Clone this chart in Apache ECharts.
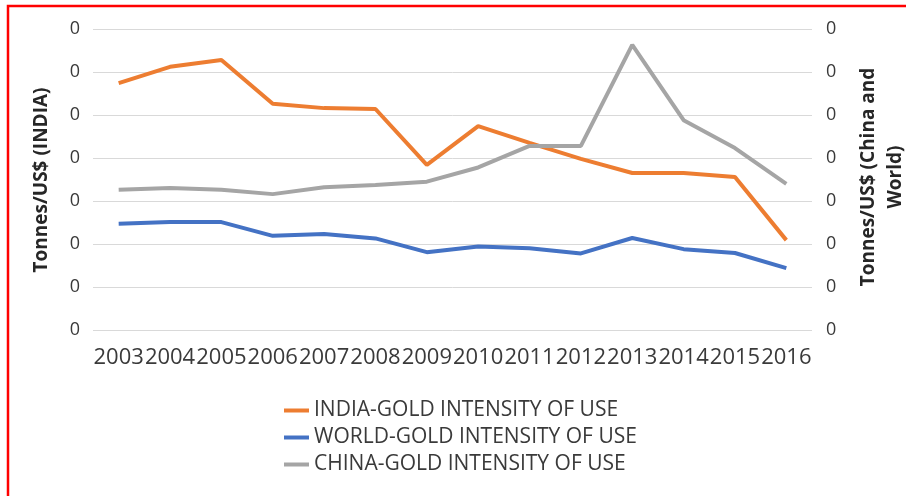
<!DOCTYPE html>
<html>
<head>
<meta charset="utf-8">
<script src="https://cdn.jsdelivr.net/npm/echarts@6/dist/echarts.min.js"></script>
<style>
  html, body { margin: 0; padding: 0; background: #ffffff; }
  #chart { width: 906px; height: 496px; }
</style>
</head>
<body>
<div id="chart"></div>
<script>
// Gold intensity of use, 2003-2016
const years = ['2003', '2004', '2005', '2006', '2007', '2008', '2009',
               '2010', '2011', '2012', '2013', '2014', '2015', '2016'];

// India on the left axis
const indiaIntensity = [0.574, 0.612, 0.628, 0.526, 0.516, 0.514, 0.384,
                        0.474, 0.435, 0.398, 0.365, 0.365, 0.356, 0.209];

// World and China on the right axis
const worldIntensity = [0.0247, 0.0251, 0.0251, 0.0219, 0.0223, 0.0213, 0.0181,
                        0.0194, 0.0190, 0.0178, 0.0214, 0.0188, 0.0179, 0.0144];
const chinaIntensity = [0.0326, 0.0330, 0.0326, 0.0316, 0.0332, 0.0337, 0.0345,
                        0.0378, 0.0428, 0.0428, 0.0663, 0.0488, 0.0423, 0.0340];

const seriesNames = ['INDIA-GOLD INTENSITY OF USE',
                     'WORLD-GOLD INTENSITY OF USE',
                     'CHINA-GOLD INTENSITY OF USE'];

const leftAxisTitle = 'Tonnes/US$ (INDIA)';
const rightAxisTitle = 'Tonnes/US$ (China and\nWorld)';

const FONT = '"Open Sans", "DejaVu Sans", sans-serif';
const chart = echarts.init(document.getElementById('chart'), null, { renderer: 'canvas' });

// tick values are shown as whole numbers with no decimals
const noDecimals = v => Math.floor(v).toFixed(0);

chart.setOption({
  animation: false,
  backgroundColor: '#ffffff',
  grid: { left: 93, right: 94, top: 29, bottom: 166, containLabel: false },
  legend: {
    orient: 'vertical',
    left: 279,
    top: 392,
    icon: 'rect',
    itemWidth: 25,
    itemHeight: 4,
    itemGap: 0,
    textStyle: { fontFamily: FONT, fontSize: 21, color: '#3a3a3a', lineHeight: 27 },
    data: seriesNames
  },
  xAxis: {
    type: 'category',
    data: years,
    boundaryGap: true,
    axisLine: { show: false },
    axisTick: { show: false },
    axisLabel: { interval: 0, margin: 17, fontFamily: FONT, fontSize: 22, color: '#3a3a3a', hideOverlap: false }
  },
  yAxis: [
    {
      type: 'value',
      min: 0, max: 0.7, interval: 0.1,
      position: 'left',
      axisLine: { show: false },
      axisTick: { show: false },
      axisLabel: { margin: 13, fontFamily: FONT, fontSize: 18, color: '#3a3a3a', formatter: noDecimals },
      splitLine: { show: true, lineStyle: { color: '#d9d9d9', width: 1 } }
    },
    {
      type: 'value',
      min: 0, max: 0.07, interval: 0.01,
      position: 'right',
      axisLine: { show: false },
      axisTick: { show: false },
      axisLabel: { margin: 14, fontFamily: FONT, fontSize: 18, color: '#3a3a3a', formatter: noDecimals },
      splitLine: { show: false }
    }
  ],
  series: [
    {
      name: seriesNames[0], type: 'line', yAxisIndex: 0, data: indiaIntensity,
      symbol: 'none', color: '#ED7D31', lineStyle: { width: 4, color: '#ED7D31' }
    },
    {
      name: seriesNames[1], type: 'line', yAxisIndex: 1, data: worldIntensity,
      symbol: 'none', color: '#4472C4', lineStyle: { width: 4, color: '#4472C4' }
    },
    {
      name: seriesNames[2], type: 'line', yAxisIndex: 1, data: chinaIntensity,
      symbol: 'none', color: '#A5A5A5', lineStyle: { width: 4, color: '#A5A5A5' }
    }
  ],
  graphic: [
    {
      type: 'rect',
      shape: { x: 8, y: 6, width: 1000, height: 1000 },
      style: { fill: 'none', stroke: '#ff0000', lineWidth: 2.5 },
      silent: true
    },
    {
      type: 'text',
      x: 42, y: 180,
      rotation: Math.PI / 2,
      style: {
        text: leftAxisTitle, fontFamily: FONT, fontSize: 19, fontWeight: 'bold',
        fill: '#262626', align: 'center', verticalAlign: 'middle'
      }
    },
    {
      type: 'text',
      x: 882, y: 177,
      rotation: Math.PI / 2,
      style: {
        text: rightAxisTitle, fontFamily: FONT, fontSize: 19, fontWeight: 'bold',
        fill: '#262626', align: 'center', verticalAlign: 'middle', lineHeight: 27
      }
    }
  ]
});
</script>
</body>
</html>
